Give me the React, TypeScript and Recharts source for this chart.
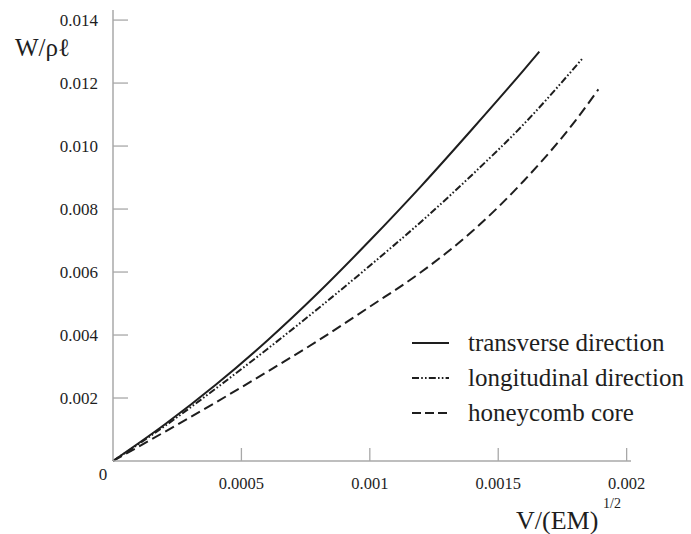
import { LineChart, Line, XAxis, YAxis } from 'recharts'

// ─── Data ───────────────────────────────────────────────────────────────────
const transverseV = [0, 0.0002, 0.0004, 0.0006, 0.0008, 0.001, 0.0012, 0.0014, 0.0016, 0.00166]
const transverseW = [0, 0.00115, 0.00242, 0.00382, 0.00535, 0.007, 0.00873, 0.01055, 0.01242, 0.013]

const longitudinalV = [0, 0.0002, 0.0004, 0.0006, 0.0008, 0.001, 0.0012, 0.0014, 0.0016, 0.00183]
const longitudinalW = [0, 0.0011, 0.0023, 0.00355, 0.00485, 0.0062, 0.0076, 0.0091, 0.0107, 0.0128]

const honeycombV = [0, 0.0002, 0.0004, 0.0006, 0.0008, 0.001, 0.0012, 0.0014, 0.0016, 0.0018, 0.00189]
const honeycombW = [0, 0.00092, 0.00186, 0.00283, 0.00383, 0.0049, 0.006, 0.0073, 0.0089, 0.0108, 0.0118]

const xTicks = [0, 0.0005, 0.001, 0.0015, 0.002]
const xTickLabels = ['0', '0.0005', '0.001', '0.0015', '0.002']
const yTicks = [0.002, 0.004, 0.006, 0.008, 0.01, 0.012, 0.014]
const yTickLabels = ['0.002', '0.004', '0.006', '0.008', '0.010', '0.012', '0.014']

const seriesNames = ['transverse direction', 'longitudinal direction', 'honeycomb core']

// ─── Layout / style ─────────────────────────────────────────────────────────
const W = 691
const H = 534
const PLOT_LEFT = 113
const PLOT_TOP = 10
const PLOT_BOTTOM = 461
const PLOT_RIGHT = 631
const FONT =
  "'Liberation Serif', 'Times New Roman', Times, Tinos, 'DejaVu Serif', 'Noto Serif', FreeSerif, serif"
const AXIS_COLOR = '#a8a8a8'
const INK = '#1e1e1e'
const DASH_DOT = '7 2.2 1.6 2.2 1.6 2.2'
const DASHED = '10 5'

const toPoints = (vs: number[], ws: number[]) => vs.map((v, i) => ({ v, w: ws[i] }))

const textStyle = (size: number) => ({ fontFamily: FONT, fontSize: size })

function XTick(props: any) {
  const { x, payload } = props
  const i = xTicks.indexOf(payload.value)
  if (payload.value === 0) {
    return (
      <text x={x - 10} y={480} textAnchor="middle" style={textStyle(17)} fill={INK}>
        0
      </text>
    )
  }
  return (
    <g>
      <line x1={x} x2={x} y1={PLOT_BOTTOM} y2={PLOT_BOTTOM - 13} stroke={AXIS_COLOR} strokeWidth={1.3} />
      <text x={x} y={489} textAnchor="middle" style={textStyle(16.5)} fill={INK}>
        {xTickLabels[i]}
      </text>
    </g>
  )
}

function YTick(props: any) {
  const { y, payload } = props
  const i = yTicks.indexOf(payload.value)
  return (
    <g>
      <line x1={PLOT_LEFT} x2={PLOT_LEFT + 15} y1={y} y2={y} stroke={AXIS_COLOR} strokeWidth={1.3} />
      <text x={98} y={y + 6} textAnchor="end" style={textStyle(17)} fill={INK}>
        {yTickLabels[i]}
      </text>
    </g>
  )
}

function LegendBox() {
  const dashes = [undefined, DASH_DOT, '9 4']
  return (
    <div
      style={{
        position: 'absolute',
        left: 411,
        top: 325,
        fontFamily: FONT,
        fontSize: 25,
        color: INK,
        whiteSpace: 'nowrap',
      }}
    >
      {seriesNames.map((name, i) => (
        <div key={name} style={{ display: 'flex', alignItems: 'center', height: 35 }}>
          <svg width={40} height={10} style={{ marginRight: 17 }}>
            <line x1={1} x2={38} y1={5} y2={5} stroke={INK} strokeWidth={2} strokeDasharray={dashes[i]} />
          </svg>
          <span>{name}</span>
        </div>
      ))}
    </div>
  )
}

export default function App() {
  return (
    <div style={{ position: 'absolute', left: 0, top: 0, width: W, height: H, background: '#fff' }}>
      <LineChart
        width={W}
        height={H}
        margin={{ top: PLOT_TOP, right: W - PLOT_RIGHT, left: 0, bottom: 0 }}
      >
        <XAxis
          type="number"
          dataKey="v"
          domain={[0, 0.002017]}
          ticks={xTicks}
          tick={<XTick />}
          tickLine={false}
          tickSize={0}
          height={H - PLOT_BOTTOM}
          axisLine={{ stroke: AXIS_COLOR, strokeWidth: 1.5 }}
          allowDuplicatedCategory={false}
          interval={0}
        />
        <YAxis
          type="number"
          dataKey="w"
          domain={[0, 0.01432]}
          ticks={yTicks}
          tick={<YTick />}
          tickLine={false}
          tickSize={0}
          width={PLOT_LEFT}
          axisLine={{ stroke: AXIS_COLOR, strokeWidth: 1.5 }}
          interval={0}
        />
        <Line
          data={toPoints(transverseV, transverseW)}
          dataKey="w"
          name={seriesNames[0]}
          stroke={INK}
          strokeWidth={2}
          dot={false}
          type="monotone"
          isAnimationActive={false}
        />
        <Line
          data={toPoints(longitudinalV, longitudinalW)}
          dataKey="w"
          name={seriesNames[1]}
          stroke={INK}
          strokeWidth={2}
          strokeDasharray={DASH_DOT}
          dot={false}
          type="monotone"
          isAnimationActive={false}
        />
        <Line
          data={toPoints(honeycombV, honeycombW)}
          dataKey="w"
          name={seriesNames[2]}
          stroke={INK}
          strokeWidth={2}
          strokeDasharray={DASHED}
          dot={false}
          type="monotone"
          isAnimationActive={false}
        />
      </LineChart>
      <LegendBox />
      <svg
        width={W}
        height={H}
        style={{ position: 'absolute', left: 0, top: 0, pointerEvents: 'none' }}
      >
        <text x={15} y={56} style={textStyle(25)} fill={INK}>
          W/ρℓ
        </text>
        <text x={516} y={529} style={textStyle(26)} fill={INK}>
          V/(EM)
        </text>
        <text x={603} y={508} style={textStyle(14)} fill={INK}>
          1/2
        </text>
      </svg>
    </div>
  )
}
